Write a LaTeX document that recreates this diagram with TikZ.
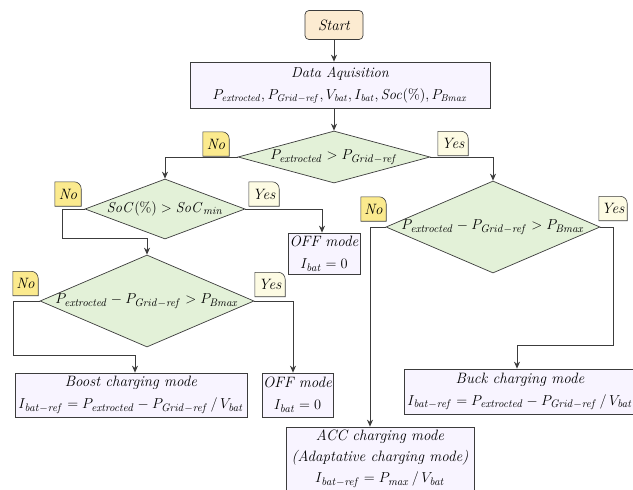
\documentclass[tikz,border=0pt]{standalone}
\usetikzlibrary{arrows.meta,shapes.geometric}
\definecolor{linec}{HTML}{3C3C3C}
\definecolor{boxc}{HTML}{F8F4FF}
\definecolor{startc}{HTML}{FCEBD1}
\definecolor{decc}{HTML}{E3F1D8}
\definecolor{noc}{HTML}{FBEA8E}
\definecolor{yesc}{HTML}{FDFBE3}
\tikzset{
  base/.style={draw=linec, line width=0.7pt, font=\fontsize{15}{22}\selectfont\itshape, align=center, inner sep=0pt},
  box/.style={base, rectangle, fill=boxc},
  dec/.style={base, diamond, fill=decc},
  conn/.style={draw=linec, line width=0.8pt, -{Stealth[length=7pt,width=6pt]}},
  tabframe/.style={draw=none, rectangle, inner sep=0pt, minimum height=24pt},
  tabtext/.style={inner sep=0pt, font=\fontsize{15}{16}\selectfont\itshape},
}
\newcommand{\yntab}[5]{%
  \node[tabframe, minimum width=#3] (#1) at (#2) {};
  \filldraw[fill=#4, draw=linec, line width=0.6pt] (#1.south west) -- (#1.north west) -- ([xshift=-7pt]#1.north east) .. controls ([xshift=-3.1pt]#1.north east) and ([yshift=-3.1pt]#1.north east) .. ([yshift=-7pt]#1.north east) -- (#1.south east) -- cycle;
  \node[tabtext] (#1t) at (#1) {#5};
}
\begin{document}
\begin{tikzpicture}[x=1pt,y=-1pt]
\useasboundingbox (0,0) rectangle (633,490);
\fill[white] (0,0) rectangle (633,490);

% nodes
\node[box, rounded corners=4pt, fill=startc, minimum width=58pt, minimum height=29pt] (start) at (334,25) {Start};
\node[box, minimum width=300pt, minimum height=46pt, font=\fontsize{14.5}{22}\selectfont\itshape] (data) at (340,85)
  {Data Aquisition\\ $P_{\mathit{extrocted}}, P_{\mathit{Grid}-\mathit{ref}}, V_{\mathit{bat}}, I_{\mathit{bat}}, \mathit{Soc}(\%), P_{\mathit{Bmax}}$};

\node[dec, minimum width=192pt, minimum height=52pt] (d1) at (334,157)
  {\makebox[0pt]{$P_{\mathit{extrocted}} > P_{\mathit{Grid}-\mathit{ref}}$}};
\node[dec, minimum width=160pt, minimum height=60pt] (d2) at (165,209)
  {\makebox[0pt]{$\mathit{SoC}(\%) > \mathit{SoC}_{\mathit{min}}$}};
\node[dec, minimum width=214pt, minimum height=92pt] (d3) at (493,227)
  {\makebox[0pt]{$P_{\mathit{extrocted}} - P_{\mathit{Grid}-\mathit{ref}} > P_{\mathit{Bmax}}$}};
\node[dec, minimum width=214pt, minimum height=92pt] (d4) at (147,301)
  {\makebox[0pt]{$P_{\mathit{extrocted}} - P_{\mathit{Grid}-\mathit{ref}} > P_{\mathit{Bmax}}$}};

\node[box, minimum width=72pt, minimum height=41pt] (off1) at (324,253.5)
  {OFF mode\\ $I_{\mathit{bat}} = 0$};
\node[box, minimum width=71pt, minimum height=44pt] (off2) at (297.5,395)
  {OFF mode\\ $I_{\mathit{bat}} = 0$};
\node[box, minimum width=232pt, minimum height=44pt] (boost) at (131,395)
  {Boost charging mode\\ $I_{\mathit{bat}-\mathit{ref}} = P_{\mathit{extrocted}} - P_{\mathit{Grid}-\mathit{ref}}\,/\,V_{\mathit{bat}}$};
\node[box, minimum width=232pt, minimum height=45pt] (buck) at (520,391.5)
  {Buck charging mode\\ $I_{\mathit{bat}-\mathit{ref}} = P_{\mathit{extrocted}} - P_{\mathit{Grid}-\mathit{ref}}\,/\,V_{\mathit{bat}}$};
\node[box, minimum width=188pt, minimum height=64pt, font=\fontsize{15}{21}\selectfont\itshape] (acc) at (380,459)
  {ACC charging mode\\ (Adaptative charging mode)\\ $I_{\mathit{bat}-\mathit{ref}} = P_{\mathit{max}}\,/\,V_{\mathit{bat}}$};

% helper coordinates
\coordinate (c2n) at (62,238);
\coordinate (c3y) at (613,345);
\coordinate (c4n) at (13,355);

% connectors
\draw[conn] (start.south) -- (start.south |- data.north);
\draw[conn] (start.south |- data.south) -- (d1.north);
\draw[conn] (d1.west) -| (d2.north);
\draw[conn] (d1.east) -| (d3.north);
\draw[conn] (d2.west) -| (c2n) -| (d4.north);
\draw[conn] (d2.east) -| ([xshift=-2pt]off1.north);
\draw[conn] (d3.west) -| ([xshift=-10pt]acc.north);
\draw[conn] (d3.east) -| (c3y) -| ([xshift=-3pt]buck.north);
\draw[conn] (d4.west) -| (c4n) -| ([xshift=4pt]boost.north);
\draw[conn] (d4.east) -| ([xshift=-4.5pt]off2.north);

% yes / no tabs
\yntab{n1}{216,144}{26pt}{noc}{No}
\yntab{y1}{453,143.5}{30pt}{yesc}{Yes}
\yntab{n2}{68,194}{26pt}{noc}{No}
\yntab{y2}{264,194}{30pt}{yesc}{Yes}
\yntab{n3}{373.5,209}{25pt}{noc}{No}
\yntab{y3}{613,208.5}{28pt}{yesc}{Yes}
\yntab{n4}{25.5,283.5}{25pt}{noc}{No}
\yntab{y4}{270,284.5}{30pt}{yesc}{Yes}
\end{tikzpicture}
\end{document}
